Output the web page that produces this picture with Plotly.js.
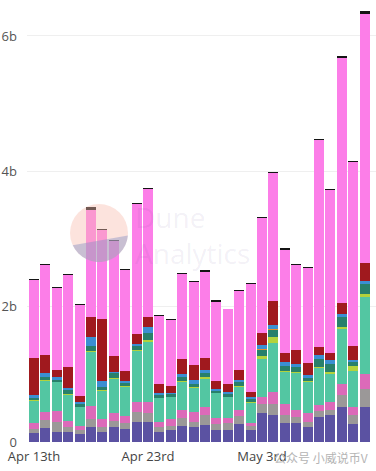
<!DOCTYPE html>
<html>
<head>
<meta charset="utf-8">
<script src="https://cdn.plot.ly/plotly-3.0.1.min.js"></script>
<style>html,body{margin:0;padding:0;background:#fff;}#chart{width:376px;height:471px;}</style>
</head>
<body>
<div id="chart"></div>
<script>
const dates = ["2021-04-13","2021-04-14","2021-04-15","2021-04-16","2021-04-17","2021-04-18","2021-04-19","2021-04-20","2021-04-21","2021-04-22",
"2021-04-23","2021-04-24","2021-04-25","2021-04-26","2021-04-27","2021-04-28","2021-04-29","2021-04-30","2021-05-01","2021-05-02",
"2021-05-03","2021-05-04","2021-05-05","2021-05-06","2021-05-07","2021-05-08","2021-05-09","2021-05-10","2021-05-11","2021-05-12"];

// values in billions, bottom of stack first
const purple = [0.128,0.20,0.15,0.143,0.118,0.226,0.152,0.217,0.187,0.30,0.30,0.152,0.177,0.236,0.217,0.25,0.177,0.177,0.265,0.177,0.423,0.40,0.276,0.285,0.226,0.37,0.394,0.516,0.27,0.516];
const gray = [0.059,0.12,0.15,0.074,0.06,0.11,0.074,0.097,0.088,0.147,0.133,0.065,0.06,0.113,0.083,0.147,0.088,0.099,0.122,0.06,0.137,0.162,0.122,0.088,0.074,0.088,0.074,0.172,0.122,0.27];
const pink = [0.097,0.12,0.16,0.097,0.06,0.196,0.109,0.118,0.108,0.147,0.162,0.083,0.10,0.123,0.147,0.123,0.084,0.074,0.084,0.05,0.099,0.18,0.162,0.10,0.124,0.084,0.122,0.172,0.122,0.221];
const teal = [0.324,0.46,0.42,0.38,0.275,0.80,0.417,0.497,0.432,0.75,0.885,0.345,0.325,0.417,0.345,0.41,0.37,0.31,0.344,0.295,0.575,0.714,0.476,0.54,0.466,0.556,0.417,0.81,0.54,1.14];
const limeGreen = [0.01,0.015,0.01,0.02,0.01,0.015,0.01,0.01,0.01,0.02,0.025,0.01,0.01,0.015,0.02,0.025,0.01,0.01,0.015,0.01,0.034,0.097,0.015,0.02,0.015,0.015,0.025,0.034,0.074,0.04];
const darkTeal = [0.035,0.045,0.03,0.06,0.035,0.07,0.055,0.074,0.05,0.05,0.108,0.038,0.034,0.05,0.05,0.068,0.024,0.034,0.05,0.04,0.088,0.109,0.065,0.074,0.044,0.108,0.124,0.137,0.049,0.147];
const orange = [0,0,0,0,0,0,0,0,0,0,0,0,0,0,0,0,0,0,0,0,0.025,0.01,0,0,0,0,0,0,0,0];
const blue = [0.049,0.06,0.035,0.02,0.035,0.133,0.083,0.02,0.024,0.03,0.08,0.035,0.025,0.049,0.049,0.04,0.035,0.034,0.04,0.04,0.049,0.063,0.059,0.049,0.04,0.059,0.049,0.05,0.04,0.049];
const darkRed = [0.54,0.27,0.11,0.32,0.09,0.295,0.92,0.236,0.147,0.157,0.156,0.122,0.09,0.23,0.22,0.172,0.112,0.114,0.147,0.068,0.18,0.344,0.147,0.197,0.177,0.122,0.108,0.156,0.197,0.26];
const magenta = [1.155,1.33,1.21,1.35,1.34,1.59,1.31,1.70,1.50,1.92,1.89,1.01,0.98,1.25,1.23,1.28,1.165,1.11,1.165,1.60,1.70,1.90,1.52,1.26,1.40,3.06,2.41,3.63,2.72,3.68];
const cap = [0.015,0.015,0.015,0.015,0.01,0.04,0.015,0.015,0.015,0.015,0.015,0.01,0.01,0.015,0.015,0.02,0.03,0.01,0.015,0.015,0.015,0.015,0.03,0.015,0.015,0.015,0.015,0.03,0.015,0.04];

const tickDates = ["2021-04-13","2021-04-23","2021-05-03"];
const tickLabels = ["Apr 13th","Apr 23rd","May 3rd"];
const yTickVals = [0,2,4,6];
const yTickLabels = ["0","2b","4b","6b"];

const series = [
  [purple,"#5b52a2"],[gray,"#9b9898"],[pink,"#dc6ab9"],[teal,"#53c6a2"],
  [limeGreen,"#b3d23c"],[darkTeal,"#28806b"],[orange,"#e48f2e"],[blue,"#3b8fd2"],
  [darkRed,"#a0191e"],[magenta,"#fc7ee8"],[cap,"#141414"]
];

const traces = series.map(([vals,color]) => ({
  type:"bar", x:dates, y:vals,
  marker:{color:color, line:{width:0}},
  hoverinfo:"skip"
}));

// watermark (decoration): lower part of the round logo
const R = 29;
const pts = [];
for (let a = 205; a <= 355; a += 10) {
  const r = a*Math.PI/180;
  pts.push([R*Math.cos(r), R*Math.sin(r)]);
}
const lowerPath = "M " + pts.map(p => p[0].toFixed(1)+","+p[1].toFixed(1)).join(" L ") + " Z";
const ax = (99-27)/349, ay = (442-233)/437;

const layout = {
  width:376, height:471,
  margin:{l:27, r:0, t:5, b:29},
  barmode:"stack", bargap:0.12,
  showlegend:false,
  paper_bgcolor:"#fff", plot_bgcolor:"#fff",
  font:{family:"Open Sans, sans-serif", size:13, color:"#555"},
  xaxis:{type:"date", range:["2021-04-12 09:15","2021-05-13 00:00"],
    tickmode:"array", tickvals:tickDates, ticktext:tickLabels,
    showgrid:false, zeroline:false, showline:false, ticks:"",
    ticklabelstandoff:5,
    tickfont:{size:13, color:"#444"}},
  yaxis:{range:[0,6.458], tickmode:"array", tickvals:yTickVals, ticktext:yTickLabels,
    showgrid:true, gridcolor:"#efefef", gridwidth:1, zeroline:false, showline:false, ticks:"",
    ticklabelstandoff:9, tickfont:{size:13, color:"#555"}},
  shapes:[
    {type:"circle", xref:"paper", yref:"paper", xsizemode:"pixel", ysizemode:"pixel",
     xanchor:ax, yanchor:ay, x0:-R, x1:R, y0:-R, y1:R,
     fillcolor:"#f8bcad", opacity:0.42, line:{width:0}, layer:"above"},
    {type:"path", xref:"paper", yref:"paper", xsizemode:"pixel", ysizemode:"pixel",
     xanchor:ax, yanchor:ay, path:lowerPath,
     fillcolor:"#8a93c6", opacity:0.45, line:{width:0}, layer:"above"}
  ],
  annotations:[
    {xref:"paper", yref:"paper", x:(133-27)/349, y:(442-235)/437, xanchor:"left", yanchor:"middle", align:"left",
     text:"Dune<br>Analytics", showarrow:false,
     font:{size:28, color:"rgba(80,60,130,0.08)", family:"Open Sans, sans-serif"}},
    {xref:"paper", yref:"paper", x:1, y:-15/437, xanchor:"right", yanchor:"middle", xshift:-6,
     text:"公众号 小威说币V", showarrow:false,
     font:{size:12, color:"#b4b4b4", family:"Noto Sans CJK SC, sans-serif"}}
  ]
};

Plotly.newPlot("chart", traces, layout, {staticPlot:true, displayModeBar:false});
</script>
</body>
</html>
